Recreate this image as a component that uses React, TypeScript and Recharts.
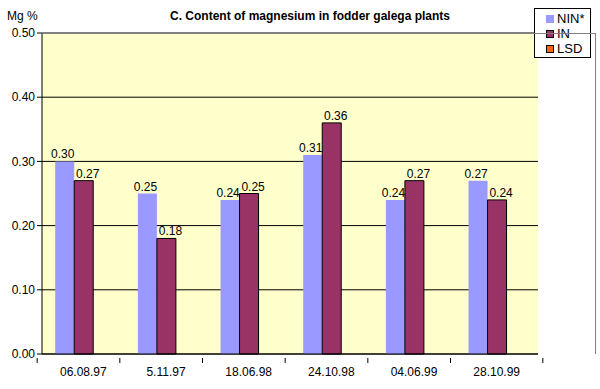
import React from 'react';
import {
  BarChart,
  Bar,
  XAxis,
  YAxis,
  CartesianGrid,
  Legend,
  LabelList,
} from 'recharts';

const dates = ['06.08.97', '5.11.97', '18.06.98', '24.10.98', '04.06.99', '28.10.99'];
const ninValues = [0.3, 0.25, 0.24, 0.31, 0.24, 0.27];
const inValues = [0.27, 0.18, 0.25, 0.36, 0.27, 0.24];
const lsdValues: (number | null)[] = [null, null, null, null, null, null];
const yTicks = [0, 0.1, 0.2, 0.3, 0.4, 0.5];

const seriesInfo = [
  { key: 'nin', name: 'NIN*', color: '#9999FF' },
  { key: 'in', name: 'IN', color: '#993366' },
  { key: 'lsd', name: 'LSD', color: '#FF6600' },
];

const W = 600;
const H = 389;
const LEFT = 42;
const RIGHT = 4;
const font = 'Arial, "Liberation Sans", sans-serif';

const XTick = (props: any) => {
  const { x, y, payload, index } = props;
  const band = (W - LEFT - RIGHT) / dates.length;
  return (
    <g>
      <line x1={x - band / 2} x2={x - band / 2} y1={y - 4} y2={y + 1} stroke="#000" />
      {index === dates.length - 1 && (
        <line x1={x + band / 2} x2={x + band / 2} y1={y - 4} y2={y + 1} stroke="#000" />
      )}
      <text x={x} y={y + 14} textAnchor="middle" fontSize={12} fill="#000" fontFamily={font}>
        {payload.value}
      </text>
    </g>
  );
};

// value label above a bar, nudged sideways like the original
const makeValueLabel = (dx: number) => (props: any) => {
  const { x, y, width, value } = props;
  if (value == null) return null;
  return (
    <text
      x={x + width / 2 + dx}
      y={y - 3}
      textAnchor="middle"
      fontSize={12}
      fill="#000"
      fontFamily={font}
    >
      {Number(value).toFixed(2)}
    </text>
  );
};

const LegendBox = () => (
  <div
    style={{
      width: 57,
      height: 50,
      border: '1px solid #000',
      background: '#fff',
      fontFamily: font,
      fontSize: 13,
      padding: '2px 0 0 11px',
      boxSizing: 'border-box',
    }}
  >
    {seriesInfo.map((s) => (
      <div key={s.key} style={{ display: 'flex', alignItems: 'center', height: 15 }}>
        <span
          style={{
            display: 'inline-block',
            width: 6,
            height: 6,
            background: s.color,
            border: s.key === 'nin' ? '1px solid ' + s.color : '1px solid #000',
            marginRight: 3,
          }}
        />
        <span>{s.name}</span>
      </div>
    ))}
  </div>
);

export default function App() {
  const data = dates.map((d, i) => ({
    date: d,
    nin: ninValues[i],
    in: inValues[i],
    lsd: lsdValues[i],
  }));

  return (
    <div style={{ position: 'absolute', left: 0, top: 0, width: W, height: H, background: '#fff', fontFamily: font }}>
      <div style={{ position: 'absolute', left: 7, top: 9, fontSize: 12, color: '#000' }}>Mg %</div>
      <div
        style={{
          position: 'absolute',
          left: 0,
          width: 620,
          top: 9,
          textAlign: 'center',
          fontSize: 12,
          fontWeight: 'bold',
          color: '#000',
        }}
      >
        C. Content of magnesium in fodder galega plants
      </div>
      <BarChart
        width={W}
        height={H}
        data={data}
        margin={{ top: 33, right: RIGHT, left: 0, bottom: 0 }}
        barCategoryGap="16%"
        barGap={0}
      >
        <CartesianGrid vertical={false} stroke="#000" fill="#FFFFCC" fillOpacity={1} />
        <XAxis
          dataKey="date"
          height={35}
          tickLine={false}
          axisLine={{ stroke: '#000' }}
          tick={<XTick />}
          interval={0}
        />
        <YAxis
          width={LEFT}
          domain={[0, 0.5]}
          ticks={yTicks}
          tickFormatter={(v: number) => v.toFixed(2)}
          tick={{ fontSize: 12, fill: '#000', fontFamily: font }}
          tickLine={{ stroke: '#000' }}
          tickSize={5}
          axisLine={{ stroke: '#000' }}
          interval={0}
        />
        <Legend
          layout="vertical"
          verticalAlign="top"
          align="right"
          content={<LegendBox />}
          wrapperStyle={{ position: 'absolute', top: 8, left: 534, width: 58 }}
        />
        <Bar dataKey="nin" name="NIN*" fill="#9999FF" isAnimationActive={false}>
          <LabelList dataKey="nin" content={makeValueLabel(-2)} />
        </Bar>
        <Bar dataKey="in" name="IN" fill="#993366" stroke="#000" strokeWidth={1} isAnimationActive={false}>
          <LabelList dataKey="in" content={makeValueLabel(4)} />
        </Bar>
        <Bar dataKey="lsd" name="LSD" fill="#FF6600" stroke="#000" isAnimationActive={false} />
      </BarChart>
      <div
        style={{
          position: 'absolute',
          left: LEFT,
          top: 33,
          width: W - LEFT - RIGHT,
          height: 321,
          borderTop: '1px solid #808080',
          borderRight: '1px solid #808080',
          boxSizing: 'border-box',
          pointerEvents: 'none',
        }}
      />
    </div>
  );
}
